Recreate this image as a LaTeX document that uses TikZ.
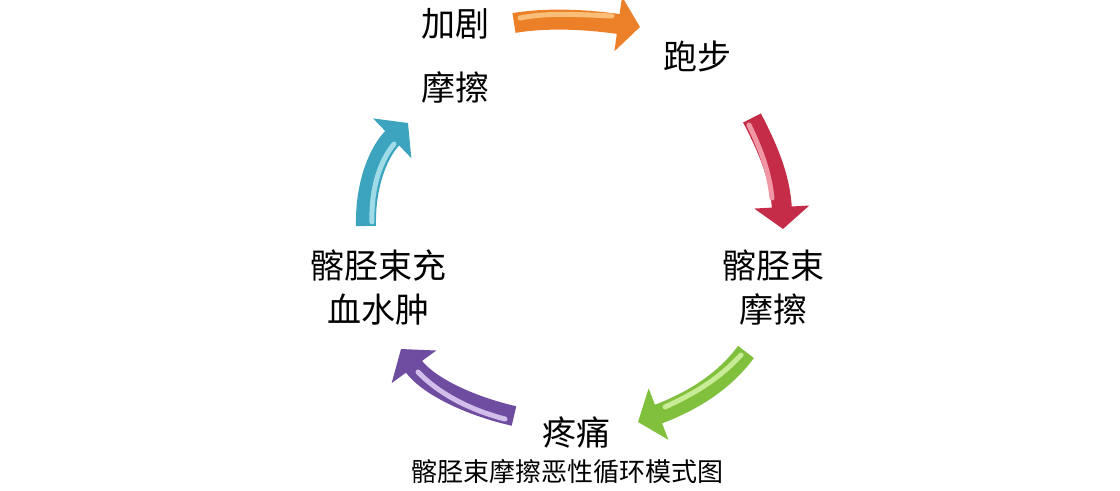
\documentclass[tikz,border=0pt]{standalone}
\usepackage{fontspec}
\newfontfamily\cjk{Noto Sans CJK SC}
\usetikzlibrary{arrows.meta}
\definecolor{orA}{RGB}{236,128,40}
\definecolor{orB}{RGB}{250,190,120}
\definecolor{rdA}{RGB}{196,44,72}
\definecolor{rdB}{RGB}{240,150,165}
\definecolor{grA}{RGB}{128,192,60}
\definecolor{grB}{RGB}{200,235,150}
\definecolor{puA}{RGB}{110,76,160}
\definecolor{puB}{RGB}{210,190,235}
\definecolor{teA}{RGB}{60,164,190}
\definecolor{teB}{RGB}{160,220,232}
\begin{document}
\begin{tikzpicture}[x=0.5pt,y=-0.5pt,
  lbl/.style={font=\cjk\fontsize{17pt}{22pt}\selectfont, inner sep=0pt},
  captext/.style={font=\cjk\fontsize{13pt}{16pt}\selectfont, inner sep=0pt},
  arr/.style={draw=#1, line width=10pt, -{Triangle[width=27pt,length=11pt]}},
  hl/.style={draw=#1, line width=2.5pt, line cap=round}]
\useasboundingbox (0,0) rectangle (1120,491);
% labels
\node[lbl] (jiaju) at (455,24) {加剧};
\node[lbl] (mocaA) at (455,88) {摩擦};
\node[lbl] (paobu) at (697,57) {跑步};
\node[lbl,align=center] (gjsmc) at (773,288) {髂胫束\\摩擦};
\node[lbl] (tt) at (576,432) {疼痛};
\node[lbl,align=center] (gjscx) at (378,288) {髂胫束充\\血水肿};
\node[captext] (caption) at (567,472) {髂胫束摩擦恶性循环模式图};
% arrow endpoints
\coordinate (o1) at (514,23);  \coordinate (o2) at (640,27);
\coordinate (r1) at (752,118); \coordinate (r2) at (783,229);
\coordinate (g1) at (746,352); \coordinate (g2) at (638,422);
\coordinate (p1) at (514,416); \coordinate (p2) at (401,349);
\coordinate (t1) at (366,226); \coordinate (t2) at (408,123);
% arrows
\draw[arr=orA] (o1) .. controls (550,17) and (590,20) .. (o2);
\draw[hl=orB] (520,18) .. controls (550,12) and (585,15) .. (612,16);
\draw[arr=rdA] (r1) .. controls (766,145) and (780,175) .. (r2);
\draw[hl=rdB] (749,125) .. controls (760,148) and (769,170) .. (772,198);
\draw[arr=grA] (g1) .. controls (722,384) and (690,402) .. (g2);
\draw[hl=grB] (741,355) .. controls (717,381) and (691,395) .. (665,407);
\draw[arr=puA] (p1) .. controls (470,406) and (428,386) .. (p2);
\draw[hl=puB] (505,419) .. controls (466,409) and (436,391) .. (418,372);
\draw[arr=teA] (t1) .. controls (365,182) and (380,150) .. (t2);
\draw[hl=teB] (372,222) .. controls (371,186) and (381,160) .. (394,144);
\end{tikzpicture}
\end{document}
